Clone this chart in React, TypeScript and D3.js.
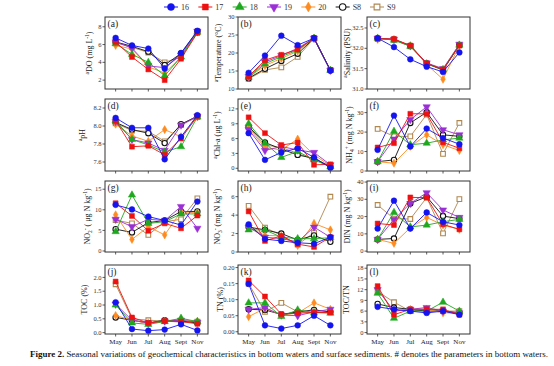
import * as d3 from "d3";

const months = ["May", "Jun", "Jul", "Aug", "Sept", "Nov"];
const stations = ["16", "17", "18", "19", "20", "S8", "S9"];
const colors = ["#1414f0", "#ee1111", "#1fa81f", "#9a2fd6", "#ff8b1f", "#111111", "#b0874f"];

// one row per station (16, 17, 18, 19, 20, S8, S9), one value per month
const doVals = [
  [6.75, 5.9, 5.55, 3.3, 5.05, 7.55],
  [6.3, 4.6, 3.2, 2.0, 4.4, 7.3],
  [6.1, 4.9, 4.0, 2.5, 4.6, 7.4],
  [6.3, 5.6, 3.6, 3.4, 4.8, 7.5],
  [5.9, 5.5, 3.5, 2.8, 4.6, 7.4],
  [6.3, 5.8, 5.2, 3.7, 5.0, 7.5],
  [6.2, 5.7, 5.1, 4.0, 4.6, 7.4],
];
const tempVals = [
  [14.5, 19.3, 24.8, 22.2, 24.1, 15.1],
  [13.5, 18.0, 19.5, 21.0, 24.1, 15.3],
  [13.3, 17.0, 19.0, 20.8, 24.1, 15.2],
  [13.5, 17.5, 19.3, 21.3, 24.1, 15.2],
  [13.2, 16.5, 18.5, 20.5, 24.1, 15.2],
  [13.0, 15.6, 17.8, 19.8, 24.1, 15.2],
  [12.8, 15.3, 16.0, 18.9, 24.1, 15.3],
];
const salVals = [
  [32.25, 32.03, 31.73, 31.55, 31.42, 31.9],
  [32.24, 32.23, 32.07, 31.63, 31.48, 32.07],
  [32.25, 32.2, 32.05, 31.62, 31.48, 32.08],
  [32.25, 32.22, 32.06, 31.64, 31.5, 32.1],
  [32.22, 32.22, 32.07, 31.6, 31.24, 32.07],
  [32.24, 32.22, 32.06, 31.63, 31.47, 32.08],
  [32.23, 32.21, 32.05, 31.62, 31.46, 32.07],
];
const phVals = [
  [8.09, 7.98, 7.98, 7.63, 7.88, 8.12],
  [8.06, 7.77, 7.78, 7.68, 7.86, 8.11],
  [8.06, 7.85, 7.79, 7.71, 7.77, 8.1],
  [8.05, 7.85, 7.81, 7.73, 8.01, 8.11],
  [8.02, 7.89, 7.83, 7.96, 7.88, 8.1],
  [8.04, 7.96, 7.92, 7.81, 8.02, 8.11],
  [8.03, 7.95, 7.94, 7.83, 8.01, 8.1],
];
const chlVals = [
  [7.1, 1.7, 3.2, 4.05, 2.2, 0.1],
  [10.3, 7.1, 4.7, 5.2, 0.7, 0.8],
  [9.0, 5.1, 2.2, 3.4, 1.7, 0.3],
  [7.8, 3.6, 4.4, 3.7, 3.2, 0.7],
  [8.1, 4.2, 3.7, 5.9, 2.7, 0.5],
  [8.4, 5.2, 3.9, 2.7, 2.0, 0.3],
  [8.3, 4.7, 4.2, 3.0, 1.8, 0.5],
];
const nh4Vals = [
  [10.9, 28.5, 12.6, 21.8, 16.9, 13.8],
  [12.1, 14.3, 29.4, 29.4, 14.7, 11.7],
  [4.8, 20.4, 13.5, 14.3, 16.0, 16.9],
  [4.8, 16.4, 26.4, 33.0, 21.2, 18.6],
  [4.8, 4.0, 12.6, 18.6, 13.5, 10.5],
  [4.8, 5.7, 24.7, 30.2, 18.6, 17.8],
  [21.6, 17.8, 17.8, 29.0, 8.8, 24.7],
];
const no2Vals = [
  [11.2, 10.1, 8.35, 7.4, 6.3, 12.0],
  [11.6, 8.5, 4.9, 6.7, 5.5, 8.6],
  [4.7, 13.6, 6.7, 7.1, 9.0, 9.0],
  [7.7, 5.9, 7.7, 7.4, 10.8, 5.5],
  [8.8, 2.8, 5.9, 3.9, 9.6, 9.2],
  [5.3, 4.5, 6.9, 7.4, 9.6, 9.6],
  [7.5, 6.7, 3.9, 7.1, 7.7, 12.8],
];
const no3Vals = [
  [3.0, 1.4, 1.2, 1.0, 0.9, 1.6],
  [4.4, 1.2, 1.75, 0.85, 0.55, 1.6],
  [2.4, 2.4, 1.6, 1.45, 1.45, 1.55],
  [2.7, 1.6, 1.45, 1.1, 2.7, 1.6],
  [2.7, 1.8, 1.75, 0.7, 3.1, 2.4],
  [2.7, 2.4, 2.0, 1.3, 1.8, 1.1],
  [5.0, 2.65, 1.8, 0.8, 2.1, 6.0],
];
const dinVals = [
  [13.1, 29.2, 13.1, 22.4, 17.0, 15.1],
  [16.0, 15.1, 31.1, 31.0, 15.5, 12.6],
  [6.8, 22.4, 14.0, 15.1, 17.0, 18.4],
  [6.8, 18.4, 27.6, 33.8, 23.8, 19.5],
  [6.8, 4.5, 13.5, 19.5, 15.1, 12.6],
  [6.8, 7.3, 27.6, 31.5, 20.3, 18.8],
  [26.7, 18.8, 18.6, 31.0, 10.3, 30.1],
];
const tocVals = [
  [1.1, 0.13, 0.07, 0.11, 0.3, 0.08],
  [1.85, 0.55, 0.35, 0.42, 0.4, 0.32],
  [1.0, 0.35, 0.3, 0.4, 0.52, 0.4],
  [1.03, 0.45, 0.35, 0.42, 0.45, 0.38],
  [0.62, 0.45, 0.33, 0.42, 0.48, 0.4],
  [0.55, 0.45, 0.35, 0.45, 0.42, 0.35],
  [1.75, 0.5, 0.45, 0.42, 0.38, 0.4],
];
const tnVals = [
  [0.149, 0.02, 0.01, 0.02, 0.05, 0.02],
  [0.16, 0.11, 0.055, 0.058, 0.06, 0.06],
  [0.09, 0.09, 0.048, 0.068, 0.06, 0.058],
  [0.07, 0.075, 0.052, 0.05, 0.062, 0.07],
  [0.047, 0.073, 0.052, 0.058, 0.09, 0.07],
  [0.07, 0.068, 0.054, 0.062, 0.068, 0.062],
  [0.15, 0.062, 0.09, 0.062, 0.06, 0.062],
];
const ratioVals = [
  [7.2, 6.5, 6.0, 5.5, 6.0, 5.0],
  [13.0, 5.0, 6.5, 6.5, 6.5, 5.0],
  [11.0, 4.0, 6.0, 6.0, 8.5, 6.0],
  [12.0, 6.0, 6.5, 7.0, 6.0, 5.5],
  [12.0, 6.0, 6.5, 6.5, 5.5, 5.5],
  [8.0, 7.0, 6.5, 6.0, 6.0, 5.5],
  [11.5, 8.5, 6.0, 6.5, 6.0, 6.0],
];

type Seg = { t: string; sup?: boolean; sub?: boolean };

const panels = [
  { id: "a", vals: doVals, domain: [1, 9.1], ticks: [2, 4, 6, 8], fmt: "d", off: 13,
    title: [{ t: "a", sup: true }, { t: "DO (mg L" }, { t: "-1", sup: true }, { t: ")" }] },
  { id: "b", vals: tempVals, domain: [10, 30], ticks: [10, 15, 20, 25, 30], fmt: "d", off: 17,
    title: [{ t: "a", sup: true }, { t: "Temperature (°C)" }] },
  { id: "c", vals: salVals, domain: [31.0, 32.77], ticks: [31.0, 31.5, 32.0, 32.5], fmt: ".1f", off: 17,
    title: [{ t: "a", sup: true }, { t: "Salinity (PSU)" }] },
  { id: "d", vals: phVals, domain: [7.5, 8.3], ticks: [7.6, 7.8, 8.0, 8.2], fmt: ".1f", off: 20,
    title: [{ t: "a", sup: true }, { t: "pH" }] },
  { id: "e", vals: chlVals, domain: [-0.55, 14], ticks: [0, 3, 6, 9, 12], fmt: "d", off: 18,
    title: [{ t: "a", sup: true }, { t: "Chl-a (μg L" }, { t: "-1", sup: true }, { t: ")" }] },
  { id: "f", vals: nh4Vals, domain: [0, 37], ticks: [0, 10, 20, 30], fmt: "d", off: 15,
    title: [{ t: "NH" }, { t: "4", sub: true }, { t: "+", sup: true }, { t: " (mg N kg" }, { t: "-1", sup: true }, { t: ")" }] },
  { id: "g", vals: no2Vals, domain: [-0.25, 17], ticks: [0, 5, 10, 15], fmt: "d", off: 15,
    title: [{ t: "NO" }, { t: "2", sub: true }, { t: "-", sup: true }, { t: " ( μg N kg" }, { t: "-1", sup: true }, { t: ")" }] },
  { id: "h", vals: no3Vals, domain: [0, 7.7], ticks: [0, 2, 4, 6], fmt: "d", off: 18,
    title: [{ t: "NO" }, { t: "3", sub: true }, { t: "-", sup: true }, { t: " (mg N kg" }, { t: "-1", sup: true }, { t: ")" }] },
  { id: "i", vals: dinVals, domain: [-0.5, 40.6], ticks: [0, 10, 20, 30, 40], fmt: "d", off: 17,
    title: [{ t: "DIN (mg N kg" }, { t: "-1", sup: true }, { t: ")" }] },
  { id: "j", vals: tocVals, domain: [-0.05, 2.45], ticks: [0, 0.5, 1.0, 1.5, 2.0], fmt: ".1f", off: 18,
    title: [{ t: "TOC (%)" }] },
  { id: "k", vals: tnVals, domain: [-0.007, 0.208], ticks: [0, 0.05, 0.1, 0.15, 0.2], fmt: ".2f", off: 15,
    title: [{ t: "TN (%)" }] },
  { id: "l", vals: ratioVals, domain: [-0.4, 18.9], ticks: [0, 3, 6, 9, 12, 15, 18], fmt: "d", off: 18,
    title: [{ t: "TOC/TN" }] },
];

const colX = [105, 238, 367];
const boxW = 103;
const rowY = [17, 99, 181, 265];
const rowH = [72, 72, 71, 69];

const serif = "'Liberation Serif', 'Times New Roman', serif";
const shapes = [d3.symbolCircle, d3.symbolSquare, d3.symbolTriangle, d3.symbolTriangle, d3.symbolDiamond, d3.symbolCircle, d3.symbolSquare];
const sizes = [26, 24, 23, 23, 19, 22, 22];

function Marker({ k, x, y, scale = 1 }: { k: number; x: number; y: number; scale?: number }) {
  const d = d3.symbol().type(shapes[k]).size(sizes[k] * scale)()!;
  const open = k >= 5;
  return (
    <path
      d={d}
      transform={`translate(${x},${y})${k === 3 ? " rotate(180)" : ""}`}
      fill={open ? "#fff" : colors[k]}
      stroke={colors[k]}
      strokeWidth={open ? 1.1 : 0.5}
    />
  );
}

function Title({ segs, x, y }: { segs: Seg[]; x: number; y: number }) {
  let shift = 0;
  return (
    <text transform={`translate(${x},${y}) rotate(-90)`} textAnchor="middle" fontFamily={serif} fontSize={8} fill="#222">
      {segs.map((s, i) => {
        const target = s.sup ? -3 : s.sub ? 2 : 0;
        const dy = target - shift;
        shift = target;
        return (
          <tspan key={i} dy={dy} fontSize={s.sup || s.sub ? 5.5 : 8}>
            {s.t}
          </tspan>
        );
      })}
    </text>
  );
}

function Panel({ p, i }: { p: (typeof panels)[number]; i: number }) {
  const col = i % 3;
  const row = Math.floor(i / 3);
  const x0 = colX[col];
  const y0 = rowY[row];
  const h = rowH[row];
  const x = d3.scalePoint<string>().domain(months).range([x0, x0 + boxW]).padding(0.65);
  const y = d3.scaleLinear().domain(p.domain).range([y0 + h, y0]);
  const fmt = d3.format(p.fmt);
  const line = d3
    .line<number>()
    .x((_, j) => x(months[j])!)
    .y((d) => y(d));
  const order = d3.range(stations.length).reverse();
  return (
    <g>
      {p.ticks.map((t) => (
        <g key={t}>
          <line x1={x0 - 2.5} x2={x0} y1={y(t)} y2={y(t)} stroke="#333" strokeWidth={0.8} />
          <text x={x0 - 3.5} y={y(t)} dy="0.33em" textAnchor="end" fontFamily={serif} fontSize={6.5} fill="#333">
            {fmt(t)}
          </text>
        </g>
      ))}
      {months.map((m) => (
        <g key={m}>
          <line x1={x(m)} x2={x(m)} y1={y0 + h} y2={y0 + h + 2.5} stroke="#333" strokeWidth={0.8} />
          {row === 3 && (
            <text x={x(m)} y={y0 + h + 9.5} textAnchor="middle" fontFamily={serif} fontSize={7} fill="#222">
              {m}
            </text>
          )}
        </g>
      ))}
      <Title segs={p.title} x={x0 - p.off} y={y0 + h / 2} />
      {order.map((k) => (
        <g key={k}>
          <path d={line(p.vals[k])!} fill="none" stroke={colors[k]} strokeWidth={0.9} />
          {p.vals[k].map((v, j) => (
            <Marker key={j} k={k} x={x(months[j])!} y={y(v)} />
          ))}
        </g>
      ))}
      <rect x={x0} y={y0} width={boxW} height={h} fill="none" stroke="#333" strokeWidth={1} />
      <text x={x0 + 2.5} y={y0 + 10} fontFamily={serif} fontSize={9.5} fill="#222">
        ({p.id})
      </text>
    </g>
  );
}

export default function App() {
  const legendX = d3.scalePoint<string>().domain(stations).range([171, 377]);
  return (
    <svg width={554} height={366} style={{ position: "absolute", left: 0, top: 0, background: "#fff" }}>
      <rect width={554} height={366} fill="#fff" />
      {stations.map((s, k) => {
        const cx = legendX(s)!;
        return (
          <g key={s}>
            <line x1={cx - 7} x2={cx + 7} y1={7} y2={7} stroke={colors[k]} strokeWidth={1} />
            <Marker k={k} x={cx} y={7} scale={1.5} />
            <text x={cx + 10} y={7} dy="0.35em" fontFamily={serif} fontSize={8} fill="#333">
              {s}
            </text>
          </g>
        );
      })}
      {panels.map((p, i) => (
        <Panel key={p.id} p={p} i={i} />
      ))}
      <text x={30} y={357} fontFamily={serif} fontSize={7.3} fill="#111" textLength={518} lengthAdjust="spacingAndGlyphs">
        <tspan fontWeight="bold">Figure 2.</tspan>
        <tspan> Seasonal variations of geochemical characteristics in bottom waters and surface sediments. # denotes the parameters in bottom waters.</tspan>
      </text>
    </svg>
  );
}
